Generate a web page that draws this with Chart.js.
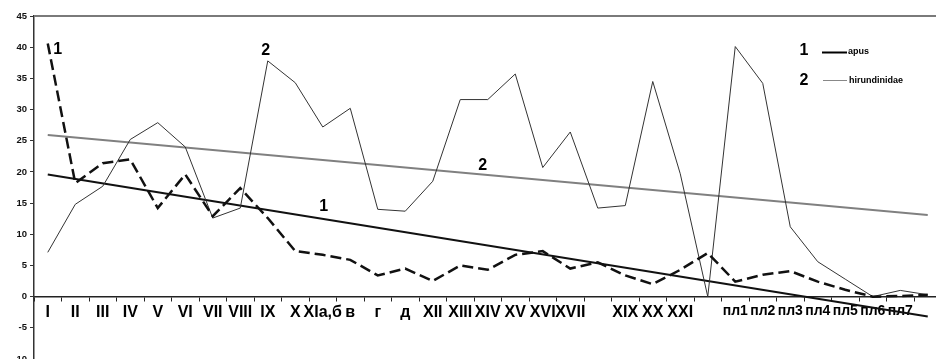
<!DOCTYPE html>
<html>
<head>
<meta charset="utf-8">
<script src="https://cdn.jsdelivr.net/npm/chart.js@4"></script>
<style>
    html, body { margin: 0; padding: 0; background: #fff; overflow: hidden; }
    #wrap { width: 950px; height: 370px; position: relative; }
</style>
</head>
<body>
<div id="wrap"><canvas id="chart"></canvas></div>
<script>
// Categories along the x axis (some labels are not printed in the original)
const categories = ['I', 'II', 'III', 'IV', 'V', 'VI', 'VII', 'VIII', 'IX', 'X', 'XIа,б', 'в', 'г', 'д',
    'XII', 'XIII', 'XIV', 'XV', 'XVI', 'XVII', '', 'XIX', 'XX', 'XXI', '',
    'пл1', 'пл2', 'пл3', 'пл4', 'пл5', 'пл6', 'пл7', ''];

// 1 - apus (dashed)
const apus = [40.6, 18.2, 21.4, 22.0, 14.2, 19.6, 12.9, 17.4, 12.6, 7.3, 6.7, 5.9, 3.4, 4.5,
    2.5, 5.0, 4.3, 6.7, 7.3, 4.5, 5.5, 3.4, 2.0, 4.3, 7.0,
    2.4, 3.5, 4.1, 2.4, 1.1, 0.0, 0.1, 0.3];

// 2 - hirundinidae (thin solid)
const hirundinidae = [7.1, 14.8, 17.7, 25.2, 27.9, 24.0, 12.6, 14.2, 37.8, 34.3, 27.2, 30.2, 14.0, 13.7,
    18.5, 31.6, 31.6, 35.7, 20.7, 26.4, 14.2, 14.6, 34.5, 19.7, 0.0,
    40.1, 34.2, 11.2, 5.6, 2.8, 0.0, 1.0, 0.3];

// linear trend lines: value at first and last category
const apusTrend = [19.6, -3.2];
const hirundinidaeTrend = [25.9, 13.1];

const yTicks = [-10, -5, 0, 5, 10, 15, 20, 25, 30, 35, 40, 45];

// only the two end values are set, the line spans the gap between them
function trendData(ends) {
    const last = categories.length - 1;
    return categories.map((c, i) => i === 0 ? ends[0] : (i === last ? ends[1] : null));
}

const overlay = {
    id: 'overlay',
    afterDraw(chart) {
        const ctx = chart.ctx;
        const area = chart.chartArea;
        const x = chart.scales.x;
        const y = chart.scales.y;
        ctx.save();

        // frame: top and right
        ctx.strokeStyle = '#7a7a7a';
        ctx.lineWidth = 2;
        ctx.beginPath();
        ctx.moveTo(area.left, area.top);
        ctx.lineTo(area.right, area.top);
        ctx.lineTo(area.right, y.getPixelForValue(0));
        ctx.stroke();

        // series numbers inside the plot
        ctx.fillStyle = '#000';
        ctx.font = 'bold 16px "Liberation Sans", Arial, sans-serif';
        ctx.textAlign = 'center';
        ctx.textBaseline = 'middle';
        const marks = [
            ['1', 0, 10, 39.6],
            ['2', 8, -2, 39.4],
            ['2', 16, -5, 21.0],
            ['1', 10, 1, 14.5]
        ];
        marks.forEach(m => {
            ctx.fillText(m[0], x.getPixelForValue(m[1]) + m[2], y.getPixelForValue(m[3]));
        });

        // legend
        ctx.fillText('1', 804, 51);
        ctx.fillText('2', 804, 81);
        ctx.strokeStyle = '#000';
        ctx.lineWidth = 2;
        ctx.beginPath();
        ctx.moveTo(822, 52.5);
        ctx.lineTo(847, 52.5);
        ctx.stroke();
        ctx.strokeStyle = '#888';
        ctx.lineWidth = 1;
        ctx.beginPath();
        ctx.moveTo(823, 80.5);
        ctx.lineTo(847, 80.5);
        ctx.stroke();
        ctx.font = 'bold 9px "Liberation Sans", Arial, sans-serif';
        ctx.textAlign = 'left';
        ctx.fillText('apus', 848, 52);
        ctx.fillText('hirundinidae', 849, 80.5);

        ctx.restore();
    }
};

const chart = new Chart(document.getElementById('chart'), {
    type: 'line',
    data: {
        labels: categories,
        datasets: [{
            label: 'apus',
            data: apus,
            borderColor: '#111',
            borderWidth: 2.5,
            borderDash: [11, 5],
            pointRadius: 0
        }, {
            label: 'hirundinidae',
            data: hirundinidae,
            borderColor: '#333',
            borderWidth: 1,
            pointRadius: 0
        }, {
            label: 'apus trend',
            data: trendData(apusTrend),
            spanGaps: true,
            borderColor: '#111',
            borderWidth: 2,
            pointRadius: 0
        }, {
            label: 'hirundinidae trend',
            data: trendData(hirundinidaeTrend),
            spanGaps: true,
            borderColor: '#808080',
            borderWidth: 2,
            pointRadius: 0
        }]
    },
    options: {
        responsive: true,
        maintainAspectRatio: false,
        animation: false,
        devicePixelRatio: 1,
        layout: {
            padding: { left: 0, top: 16, right: 8.5, bottom: 11 }
        },
        plugins: {
            legend: { display: false },
            tooltip: { enabled: false }
        },
        scales: {
            x: {
                type: 'category',
                position: { y: 0 },
                offset: true,
                grid: {
                    offset: true,
                    drawOnChartArea: false,
                    tickLength: 4,
                    color: '#222'
                },
                border: { color: '#222', width: 1.5 },
                ticks: {
                    autoSkip: false,
                    maxRotation: 0,
                    minRotation: 0,
                    padding: 2,
                    color: '#000',
                    font: function(c) {
                        const lbl = c.tick && c.tick.label ? String(c.tick.label) : '';
                        return {
                            family: '"Liberation Sans", Arial, sans-serif',
                            weight: 'bold',
                            size: lbl.indexOf('пл') === 0 ? 14 : 16
                        };
                    }
                }
            },
            y: {
                min: -10,
                max: 45,
                afterFit: function(scale) { scale.width = 34; },
                afterBuildTicks: function(scale) {
                    scale.ticks = yTicks.map(v => ({ value: v }));
                },
                grid: {
                    drawOnChartArea: false,
                    tickLength: 4,
                    color: '#333'
                },
                border: { color: '#333', width: 1.5 },
                ticks: {
                    padding: 3,
                    color: '#111',
                    font: { family: '"Liberation Sans", Arial, sans-serif', weight: 'bold', size: 9.5 }
                }
            }
        }
    },
    plugins: [overlay]
});
</script>
</body>
</html>
